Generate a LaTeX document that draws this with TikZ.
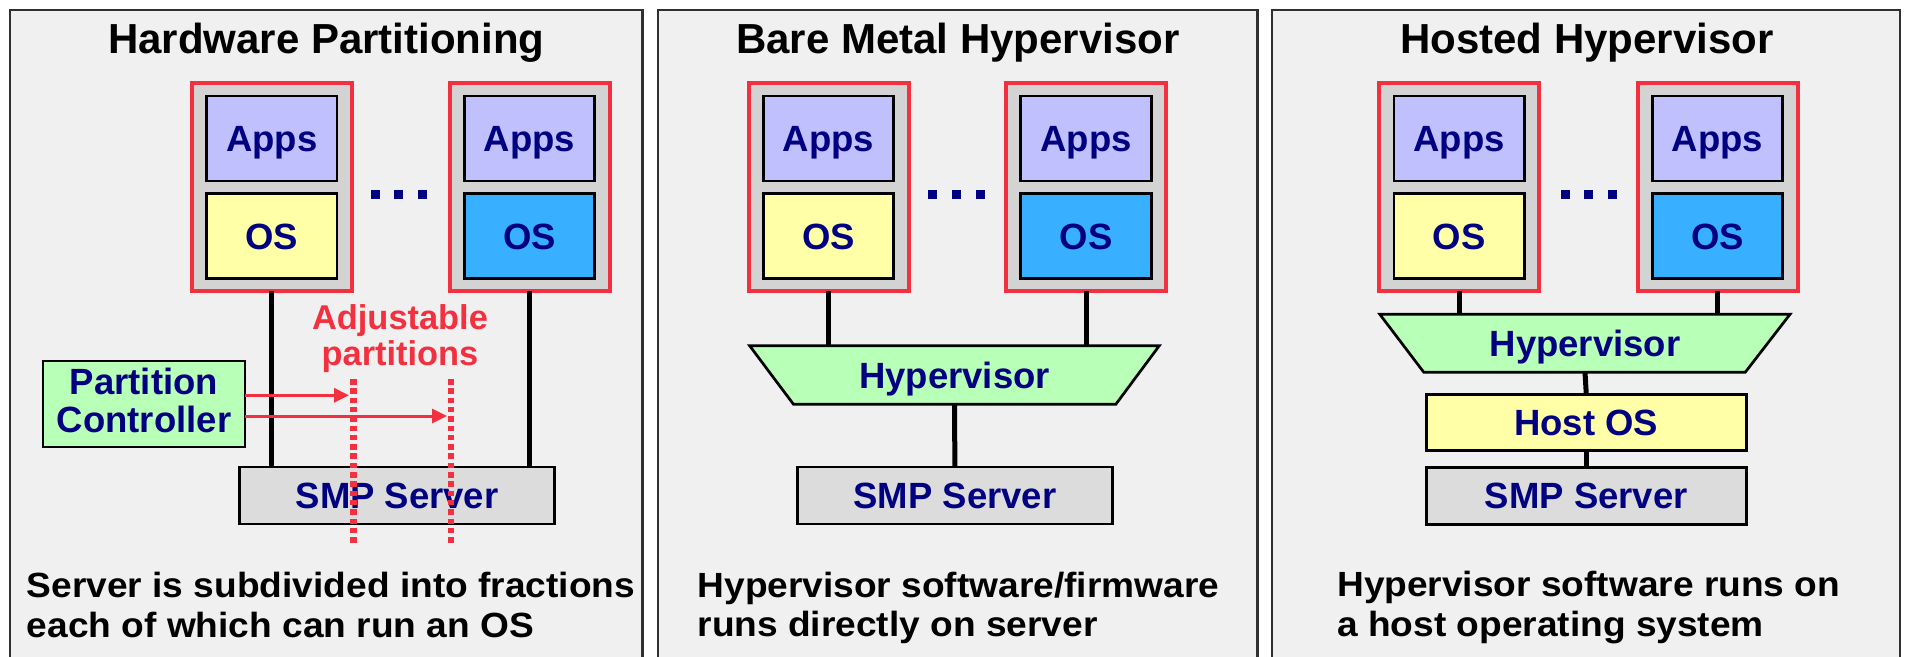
\documentclass[tikz,border=0pt]{standalone}
\usepackage{fontspec}
\setmainfont{Liberation Sans}
\newfontfamily\capfont{Liberation Sans}[FakeStretch=1.06]
\usetikzlibrary{arrows.meta}

\definecolor{panelbg}{HTML}{F0F0F0}
\definecolor{panelline}{HTML}{303030}
\definecolor{vmred}{HTML}{F2303F}
\definecolor{vmgray}{HTML}{D3D3D3}
\definecolor{appsfill}{HTML}{C0C0FF}
\definecolor{osyellow}{HTML}{FFFFA8}
\definecolor{osblue}{HTML}{38AFFF}
\definecolor{hvgreen}{HTML}{B8FFB8}
\definecolor{smpgray}{HTML}{DCDCDC}
\definecolor{navy}{HTML}{000080}

\begin{document}
\begin{tikzpicture}[x=1pt,y=-1pt,
  panel/.style={draw=panelline, line width=2.5pt, fill=panelbg},
  paneltitle/.style={font=\bfseries\fontsize{42}{48}\selectfont, anchor=base, inner sep=0pt},
  vmbox/.style={draw=vmred, line width=4pt, fill=vmgray, minimum width=160pt, minimum height=208pt, inner sep=0pt, outer sep=0pt},
  layerbox/.style={draw=black, line width=2.7pt, text=navy, font=\bfseries\fontsize{36.5}{38}\selectfont,
    text height=26pt, text depth=0pt, inner sep=0pt, outer sep=0pt},
  appsbox/.style={layerbox, fill=appsfill, minimum width=130.6pt, minimum height=85pt},
  osbox/.style={layerbox, minimum width=130.6pt, minimum height=85pt},
  smpbox/.style={layerbox, fill=smpgray, minimum width=315pt, minimum height=57pt},
  hostbox/.style={layerbox, fill=osyellow, minimum width=320pt, minimum height=56pt},
  hvshape/.style={draw=black, line width=2.7pt, fill=hvgreen, line join=miter},
  hvtext/.style={text=navy, font=\bfseries\fontsize{36.5}{38}\selectfont,
    text height=26pt, text depth=0pt, inner sep=0pt, outer sep=0pt, minimum height=58pt},
  ctrlbox/.style={draw=black, line width=2.7pt, fill=hvgreen, text=navy, align=center,
    font=\bfseries\fontsize{36.5}{38}\selectfont, text depth=8pt, inner sep=0pt, outer sep=0pt,
    minimum width=202pt, minimum height=86pt},
  dotbox/.style={fill=navy, minimum size=9pt, inner sep=0pt},
  link/.style={draw=black, line width=5pt},
  partline/.style={draw=vmred, line width=6.5pt, dash pattern=on 5.5pt off 3.8pt},
  ctrlarrow/.style={draw=vmred, line width=3pt, -{Triangle[length=15pt,width=14pt]}},
  redlabel/.style={text=vmred, font=\bfseries\fontsize{34.4}{36}\selectfont, anchor=base, inner sep=0pt},
  caption/.style={font=\capfont\bfseries\fontsize{35}{40}\selectfont, anchor=base west, inner sep=0pt}
]
\useasboundingbox (0,0) rectangle (1908,656);

% ---------- three panels ----------
\path[panel] (10,10) rectangle (642.7,680);
\path[panel] (657.9,10) rectangle (1257.7,680);
\path[panel] (1272,10) rectangle (1899.8,680);

\node[paneltitle] (t1) at (326.4,53) {Hardware Partitioning};
\node[paneltitle] (t2) at (957.8,53) {Bare Metal Hypervisor};
\node[paneltitle] (t3) at (1587,53) {Hosted Hypervisor};

% ---------- Hardware partitioning ----------
\node[vmbox] (vm1a) at (271.7,187.2) {};
\node[appsbox] (apps1a) at (271.7,138.4) {Apps};
\node[osbox, fill=osyellow] (os1a) at (271.7,236) {OS};
\node[vmbox] (vm1b) at (529.5,187.2) {};
\node[appsbox] (apps1b) at (529.5,138.4) {Apps};
\node[osbox, fill=osblue] (os1b) at (529.5,236) {OS};
\node[dotbox] (d1a) at (375,194.3) {};
\node[dotbox] (d1b) at (398.7,194.3) {};
\node[dotbox] (d1c) at (422.3,194.3) {};

\node[smpbox] (smp1) at (397.1,495.5) {SMP Server};
\draw[link] (vm1a.south) -- (vm1a.south |- smp1.north);
\draw[link] (vm1b.south) -- (vm1b.south |- smp1.north);

\node[redlabel] (adj1) at (400,329.3) {Adjustable};
\node[redlabel] (adj2) at (400,365.5) {partitions};

\coordinate (p1t) at (353.3,379);
\coordinate (p1b) at (353.3,546);
\coordinate (p2t) at (451,379);
\coordinate (p2b) at (451,546);
\draw[partline] (p1t) -- (p1b);
\draw[partline] (p2t) -- (p2b);

\node[ctrlbox] (pc) at (144,404) {Partition\\Controller};
\coordinate (a1) at (349,395.3);
\coordinate (a2) at (447,416);
\draw[ctrlarrow] (pc.east |- a1) -- (a1);
\draw[ctrlarrow] (pc.east |- a2) -- (a2);

\node[caption] (c1a) at (26.7,597.7) {Server is subdivided into fractions};
\node[caption] (c1b) at (26.7,637.7) {each of which can run an OS};

% ---------- Bare metal hypervisor ----------
\node[vmbox] (vm2a) at (828.5,187.2) {};
\node[appsbox] (apps2a) at (828.5,138.4) {Apps};
\node[osbox, fill=osyellow] (os2a) at (828.5,236) {OS};
\node[vmbox] (vm2b) at (1086,187.2) {};
\node[appsbox] (apps2b) at (1086,138.4) {Apps};
\node[osbox, fill=osblue] (os2b) at (1086,236) {OS};
\node[dotbox] (d2a) at (932.7,194.3) {};
\node[dotbox] (d2b) at (956.7,194.3) {};
\node[dotbox] (d2c) at (980.7,194.3) {};

% hypervisor layer: wide top edge, narrow bottom edge
\path[hvshape] (749.6,345.7) -- (1159.3,345.7) -- (1115.8,404.3) -- (793.5,404.3) -- cycle;
\node[hvtext, minimum width=409.7pt, minimum height=58.6pt] (hv2) at (954.5,375) {Hypervisor};
\node[smpbox] (smp2) at (954.9,495.5) {SMP Server};
\draw[link] (vm2a.south) -- (vm2a.south |- hv2.north);
\draw[link] (vm2b.south) -- (vm2b.south |- hv2.north);
\draw[link] (hv2.south) -- (smp2.north);

\node[caption] (c2a) at (697.4,597.7) {Hypervisor software/firmware};
\node[caption] (c2b) at (697.4,636.7) {runs directly on server};

% ---------- Hosted hypervisor ----------
\node[vmbox] (vm3a) at (1459.2,187.2) {};
\node[appsbox] (apps3a) at (1459.2,138.4) {Apps};
\node[osbox, fill=osyellow] (os3a) at (1459.2,236) {OS};
\node[vmbox] (vm3b) at (1717.5,187.2) {};
\node[appsbox] (apps3b) at (1717.5,138.4) {Apps};
\node[osbox, fill=osblue] (os3b) at (1717.5,236) {OS};
\node[dotbox] (d3a) at (1565.3,194.3) {};
\node[dotbox] (d3b) at (1588.3,194.3) {};
\node[dotbox] (d3c) at (1612.3,194.3) {};

\path[hvshape] (1379.8,314.3) -- (1790,314.3) -- (1745.2,372.3) -- (1423.8,372.3) -- cycle;
\node[hvtext, minimum width=410.2pt] (hv3) at (1585,343.3) {Hypervisor};
\node[hostbox] (host3) at (1586.3,422.5) {Host OS};
\node[smpbox, minimum width=320pt] (smp3) at (1586.3,495.9) {SMP Server};
\draw[link] (vm3a.south) -- (vm3a.south |- hv3.north);
\draw[link] (vm3b.south) -- (vm3b.south |- hv3.north);
\draw[link] (hv3.south) -- (host3.north);
\draw[link] (host3.south) -- (smp3.north);

\node[caption] (c3a) at (1337,596.7) {Hypervisor software runs on};
\node[caption] (c3b) at (1337,636.7) {a host operating system};
\end{tikzpicture}
\end{document}
